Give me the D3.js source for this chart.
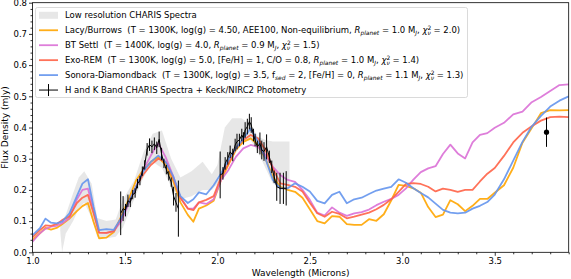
<!DOCTYPE html>
<html>
<head>
<meta charset="utf-8">
<script src="https://cdn.jsdelivr.net/npm/d3@7"></script>
<style>
  body { margin: 0; background: #fff; }
  svg { display: block; }
  text { font-family: "DejaVu Sans", sans-serif; }
</style>
</head>
<body>
<div id="chart"></div>
<script>
// wavelength grid shared by the four model spectra (microns)
var modelWl = [1.00, 1.04, 1.07, 1.10, 1.13, 1.16, 1.20, 1.24, 1.27, 1.30, 1.33, 1.36, 1.40, 1.44,
  1.48, 1.52, 1.56, 1.60, 1.64, 1.68, 1.72, 1.76, 1.80, 1.84, 1.87, 1.90, 1.94, 1.98,
  2.02, 2.06, 2.10, 2.14, 2.18, 2.22, 2.26, 2.30, 2.34, 2.38, 2.42, 2.46,
  2.50, 2.54, 2.58, 2.62, 2.66, 2.70, 2.74, 2.78, 2.82, 2.86, 2.90, 2.94, 2.98, 3.02, 3.06,
  3.10, 3.14, 3.18, 3.22, 3.26, 3.30, 3.34, 3.38, 3.42, 3.46, 3.50, 3.55, 3.60, 3.65, 3.70, 3.75, 3.80, 3.85, 3.90];

// model fluxes (mJy)
var lacyBurrows = [0.039, 0.061, 0.078, 0.073, 0.078, 0.090, 0.108, 0.132, 0.148, 0.158, 0.098, 0.045, 0.047, 0.065,
  0.115, 0.170, 0.230, 0.265, 0.290, 0.305, 0.280, 0.230, 0.160, 0.120, 0.098, 0.140, 0.150, 0.165,
  0.232, 0.280, 0.328, 0.354, 0.365, 0.344, 0.300, 0.242, 0.210, 0.200, 0.194, 0.175,
  0.138, 0.100, 0.093, 0.116, 0.114, 0.090, 0.088, 0.088, 0.106, 0.101, 0.122, 0.166, 0.216, 0.213, 0.205,
  0.191, 0.145, 0.113, 0.121, 0.167, 0.154, 0.132, 0.149, 0.171, 0.171, 0.191, 0.215, 0.271, 0.351, 0.398, 0.446, 0.456, 0.455, 0.456];

var btSettl = [0.034, 0.061, 0.075, 0.082, 0.085, 0.093, 0.110, 0.170, 0.200, 0.204, 0.136, 0.063, 0.062, 0.068,
  0.100, 0.155, 0.210, 0.265, 0.310, 0.350, 0.305, 0.245, 0.175, 0.140, 0.140, 0.160, 0.155, 0.170,
  0.232, 0.264, 0.306, 0.333, 0.344, 0.338, 0.312, 0.274, 0.248, 0.232, 0.226, 0.200,
  0.168, 0.127, 0.118, 0.144, 0.127, 0.117, 0.125, 0.129, 0.137, 0.151, 0.162, 0.171, 0.184, 0.205, 0.233,
  0.257, 0.269, 0.276, 0.315, 0.345, 0.317, 0.301, 0.352, 0.376, 0.382, 0.399, 0.415, 0.442, 0.451, 0.481, 0.498, 0.517, 0.536, 0.538];

var exoRem = [0.048, 0.071, 0.086, 0.085, 0.090, 0.103, 0.115, 0.158, 0.175, 0.184, 0.125, 0.063, 0.062, 0.068,
  0.110, 0.160, 0.210, 0.250, 0.280, 0.300, 0.290, 0.240, 0.175, 0.140, 0.135, 0.160, 0.168, 0.180,
  0.242, 0.285, 0.333, 0.360, 0.376, 0.365, 0.328, 0.269, 0.221, 0.216, 0.210, 0.195,
  0.159, 0.125, 0.114, 0.130, 0.123, 0.109, 0.114, 0.121, 0.127, 0.138, 0.152, 0.170, 0.194, 0.219, 0.222,
  0.219, 0.210, 0.195, 0.204, 0.200, 0.194, 0.200, 0.200, 0.227, 0.252, 0.270, 0.309, 0.352, 0.383, 0.404, 0.422, 0.433, 0.435, 0.433];

var sonora = [0.055, 0.077, 0.108, 0.095, 0.093, 0.098, 0.125, 0.180, 0.220, 0.234, 0.146, 0.071, 0.074, 0.072,
  0.110, 0.160, 0.210, 0.260, 0.290, 0.310, 0.290, 0.245, 0.180, 0.158, 0.170, 0.192, 0.186, 0.215,
  0.253, 0.296, 0.333, 0.365, 0.397, 0.354, 0.300, 0.232, 0.205, 0.205, 0.221, 0.210,
  0.195, 0.165, 0.157, 0.184, 0.194, 0.157, 0.170, 0.175, 0.187, 0.198, 0.204, 0.210, 0.234, 0.223, 0.205,
  0.190, 0.176, 0.156, 0.136, 0.127, 0.125, 0.127, 0.140, 0.149, 0.161, 0.185, 0.234, 0.294, 0.354, 0.403, 0.437, 0.467, 0.486, 0.500];

// low resolution CHARIS envelope
var charisWl = [1.15, 1.16, 1.18, 1.22, 1.25, 1.28, 1.32, 1.35, 1.40, 1.45, 1.49, 1.55, 1.60, 1.65, 1.70, 1.75, 1.80,
  1.86, 1.92, 1.97, 2.00, 2.04, 2.08, 2.13, 2.18, 2.22, 2.26, 2.30, 2.39];
var charisLo = [0.07, 0.00, 0.06, 0.10, 0.14, 0.16, 0.11, 0.05, 0.045, 0.05, 0.08, 0.17, 0.24, 0.29, 0.27, 0.21, 0.17,
  0.18, 0.20, 0.20, 0.22, 0.26, 0.30, 0.35, 0.36, 0.32, 0.27, 0.22, 0.20];
var charisHi = [0.10, 0.10, 0.12, 0.19, 0.24, 0.26, 0.22, 0.11, 0.10, 0.105, 0.17, 0.23, 0.32, 0.38, 0.39, 0.30, 0.24,
  0.26, 0.29, 0.25, 0.28, 0.40, 0.43, 0.43, 0.41, 0.37, 0.36, 0.355, 0.355];

// H band CHARIS spectrum
var hWl = [1.477, 1.490, 1.503, 1.516, 1.529, 1.542, 1.555, 1.568, 1.581, 1.594, 1.607, 1.620, 1.633,
  1.646, 1.659, 1.672, 1.685, 1.698, 1.711, 1.724, 1.737, 1.750, 1.763, 1.776, 1.789];
var hFlux = [0.125, 0.140, 0.135, 0.165, 0.160, 0.185, 0.190, 0.220, 0.230, 0.260, 0.280, 0.330, 0.345,
  0.338, 0.348, 0.335, 0.362, 0.315, 0.285, 0.265, 0.245, 0.225, 0.180, 0.160, 0.140];
var hErr = [0.070, 0.040, 0.020, 0.020, 0.015, 0.015, 0.015, 0.015, 0.015, 0.015, 0.015, 0.020, 0.020,
  0.020, 0.020, 0.020, 0.025, 0.020, 0.015, 0.015, 0.015, 0.015, 0.030, 0.030, 0.090];

// K band CHARIS spectrum
var kWl = [2.015, 2.030, 2.042, 2.056, 2.069, 2.083, 2.096, 2.106, 2.119, 2.132, 2.141, 2.150, 2.162, 2.173,
  2.183, 2.195, 2.204, 2.216, 2.230, 2.240, 2.252, 2.266, 2.281, 2.294, 2.307, 2.321, 2.339, 2.357, 2.372];
var kFlux = [0.248, 0.253, 0.285, 0.301, 0.322, 0.312, 0.344, 0.355, 0.360, 0.376, 0.365, 0.392, 0.403, 0.419,
  0.408, 0.376, 0.360, 0.338, 0.349, 0.328, 0.323, 0.338, 0.306, 0.274, 0.242, 0.210, 0.205, 0.205, 0.205];
var kErr = [0.075, 0.020, 0.020, 0.020, 0.020, 0.020, 0.020, 0.025, 0.020, 0.020, 0.020, 0.025, 0.025, 0.025,
  0.025, 0.020, 0.020, 0.020, 0.035, 0.030, 0.030, 0.040, 0.020, 0.020, 0.020, 0.045, 0.050, 0.050, 0.055];

// Keck/NIRC2 photometry
var photWl = [3.78];
var photFlux = [0.385];
var photErr = [0.047];

// ticks
var xMajorTicks = [1.0, 1.5, 2.0, 2.5, 3.0, 3.5];
var yMajorTicks = [0.0, 0.1, 0.2, 0.3, 0.4, 0.5, 0.6, 0.7, 0.8];

// SVG
var svgWidth = 571, svgHeight = 279;
var margin = {top: 2.7, right: 2.3, bottom: 26.7, left: 32.5};
var chartWidth = svgWidth - margin.left - margin.right;
var chartHeight = svgHeight - margin.top - margin.bottom;

var svg = d3.select("#chart").append("svg").attr("width", svgWidth).attr("height", svgHeight);
var g = svg.append("g").attr("transform", `translate(${margin.left},${margin.top})`);

var x = d3.scaleLinear().domain([1.0, 3.9]).range([0, chartWidth]);
var y = d3.scaleLinear().domain([0, 0.8]).range([chartHeight, 0]);

// clip rect lives in the plot group's own (translated) space
svg.append("clipPath").attr("id", "plotclip").append("rect")
  .attr("width", chartWidth).attr("height", chartHeight);
var plot = g.append("g").attr("clip-path", "url(#plotclip)");

// gray band
var band = charisWl.map((w, i) => ({w: w, lo: charisLo[i], hi: charisHi[i]}));
plot.append("path").datum(band)
  .attr("d", d3.area().x(d => x(d.w)).y0(d => y(d.lo)).y1(d => y(d.hi)))
  .attr("fill", "#d3d3d3").attr("opacity", 0.55);

// model lines
var models = [
  {vals: lacyBurrows, color: "#ffa500"},
  {vals: btSettl, color: "#da70d6"},
  {vals: exoRem, color: "#ff6347"},
  {vals: sonora, color: "#6495ed"}
];
var line = d3.line().x(d => x(d[0])).y(d => y(d[1]));
models.forEach(m => {
  plot.append("path").datum(modelWl.map((w, i) => [w, m.vals[i]]))
    .attr("d", line).attr("fill", "none")
    .attr("stroke", m.color).attr("stroke-width", 1.8)
    .attr("stroke-opacity", 0.9).attr("stroke-linejoin", "round");
});

// black CHARIS spectra with error bars
function drawSpec(wl, fl, er, connect) {
  var pts = wl.map((w, i) => ({w: w, f: fl[i], e: er[i]}));
  if (connect) {
    plot.append("path").datum(pts.map(p => [p.w, p.f]))
      .attr("d", line).attr("fill", "none").attr("stroke", "black").attr("stroke-width", 1.0);
  }
  plot.selectAll(null).data(pts).enter().append("line")
    .attr("x1", d => x(d.w)).attr("x2", d => x(d.w))
    .attr("y1", d => y(d.f - d.e)).attr("y2", d => y(d.f + d.e))
    .attr("stroke", "black").attr("stroke-width", 1.0);
  return pts;
}
drawSpec(hWl, hFlux, hErr, true);
drawSpec(kWl, kFlux, kErr, true);
var ph = drawSpec(photWl, photFlux, photErr, false);
plot.selectAll(null).data(ph).enter().append("circle")
  .attr("cx", d => x(d.w)).attr("cy", d => y(d.f)).attr("r", 2.6).attr("fill", "black");

// axes
var xMinor = d3.range(10, 40).map(v => v / 10).filter(v => xMajorTicks.indexOf(v) < 0);
var yMinor = d3.range(0, 41).map(v => v / 50).filter(v => Math.round(v * 50) % 5 !== 0);

g.append("g").attr("transform", `translate(0,${chartHeight})`)
  .call(d3.axisBottom(x).tickValues(xMajorTicks).tickFormat(d3.format(".1f")).tickSize(3.5).tickPadding(2));
g.append("g").attr("transform", `translate(0,${chartHeight})`)
  .call(d3.axisBottom(x).tickValues(xMinor).tickFormat("").tickSize(2));
g.append("g")
  .call(d3.axisLeft(y).tickValues(yMajorTicks).tickFormat(d3.format(".1f")).tickSize(3.5).tickPadding(2));
g.append("g")
  .call(d3.axisLeft(y).tickValues(yMinor).tickFormat("").tickSize(2));
g.selectAll(".domain").remove();
g.selectAll(".tick line").attr("stroke", "black").attr("stroke-width", 0.8);
g.selectAll(".tick text").attr("font-size", 8.5).attr("fill", "black")
  .style("font-family", "'DejaVu Sans', sans-serif");

// frame
g.append("rect").attr("width", chartWidth).attr("height", chartHeight)
  .attr("fill", "none").attr("stroke", "black").attr("stroke-width", 0.8);

// axis titles
g.append("text").attr("x", chartWidth / 2).attr("y", chartHeight + 23.5)
  .attr("text-anchor", "middle").attr("font-size", 9).text("Wavelength (Microns)");
g.append("text").attr("transform", "rotate(-90)")
  .attr("x", -chartHeight / 2).attr("y", -24.5)
  .attr("text-anchor", "middle").attr("font-size", 9).text("Flux Density (mJy)");

// legend
var fs = 8.5;
var chi = (v) => [["χ", "i"], ["2", "sup"], ["ν", "stack"], [" = " + v + ")", "n"]];
var rp = (v) => [["R", "i"], ["planet", "sub"], [" = " + v + " M", "n"], ["J", "sub"], [", ", "n"]];
var legendRows = [
  {kind: "band", parts: [["Low resolution CHARIS Spectra", "n"]]},
  {kind: "line", color: "#ffa500", parts: [["Lacy/Burrows  (T = 1300K, log(g) = 4.50, AEE100, Non-equilibrium, ", "n"]].concat(rp("1.0"), chi("2.0"))},
  {kind: "line", color: "#da70d6", parts: [["BT Settl  (T = 1400K, log(g) = 4.0, ", "n"]].concat(rp("0.9"), chi("1.5"))},
  {kind: "line", color: "#ff6347", parts: [["Exo-REM  (T = 1300K, log(g) = 5.0, [Fe/H] = 1, C/O = 0.8, ", "n"]].concat(rp("1.0"), chi("1.4"))},
  {kind: "line", color: "#6495ed", parts: [["Sonora-Diamondback  (T = 1300K, log(g) = 3.5, f", "n"], ["sed", "sub"], [" = 2, [Fe/H] = 0, ", "n"]].concat(rp("1.1"), chi("1.3"))},
  {kind: "err", parts: [["H and K Band CHARIS Spectra + Keck/NIRC2 Photometry", "n"]]}
];

var leg = svg.append("g");
leg.append("rect").attr("x", 35.5).attr("y", 7.5).attr("width", 432).attr("height", 90).attr("rx", 2)
  .attr("fill", "white").attr("fill-opacity", 0.8).attr("stroke", "#d0d0d0").attr("stroke-width", 0.8);

legendRows.forEach((row, i) => {
  var cy = 15.3 + i * 14.95;
  if (row.kind === "band") {
    leg.append("rect").attr("x", 39).attr("y", cy - 3.5).attr("width", 19).attr("height", 7)
      .attr("fill", "#d3d3d3").attr("opacity", 0.55);
  } else if (row.kind === "line") {
    leg.append("line").attr("x1", 39).attr("x2", 58).attr("y1", cy).attr("y2", cy)
      .attr("stroke", row.color).attr("stroke-width", 1.8).attr("stroke-opacity", 0.9);
  } else {
    leg.append("line").attr("x1", 39).attr("x2", 58).attr("y1", cy).attr("y2", cy)
      .attr("stroke", "black").attr("stroke-width", 1.0);
    leg.append("line").attr("x1", 48.5).attr("x2", 48.5).attr("y1", cy - 6).attr("y2", cy + 6)
      .attr("stroke", "black").attr("stroke-width", 1.0);
  }
  var t = leg.append("text").attr("x", 65).attr("y", cy + 3.1)
    .attr("font-size", fs).style("white-space", "pre");
  var cur = 0;
  row.parts.forEach(p => {
    var size = fs, off = 0, ital = false, dx = 0;
    if (p[1] === "i") ital = true;
    if (p[1] === "sub") { size = fs * 0.7; off = fs * 0.22; ital = true; }
    if (p[1] === "sup") { size = fs * 0.7; off = -fs * 0.38; }
    if (p[1] === "stack") { size = fs * 0.7; off = fs * 0.22; ital = true; dx = -fs * 0.7 * 0.636; }
    var ts = t.append("tspan").attr("font-size", size).attr("dy", off - cur).text(p[0]);
    if (dx) ts.attr("dx", dx);
    if (ital) ts.attr("font-style", "italic");
    cur = off;
  });
});
</script>
</body>
</html>
